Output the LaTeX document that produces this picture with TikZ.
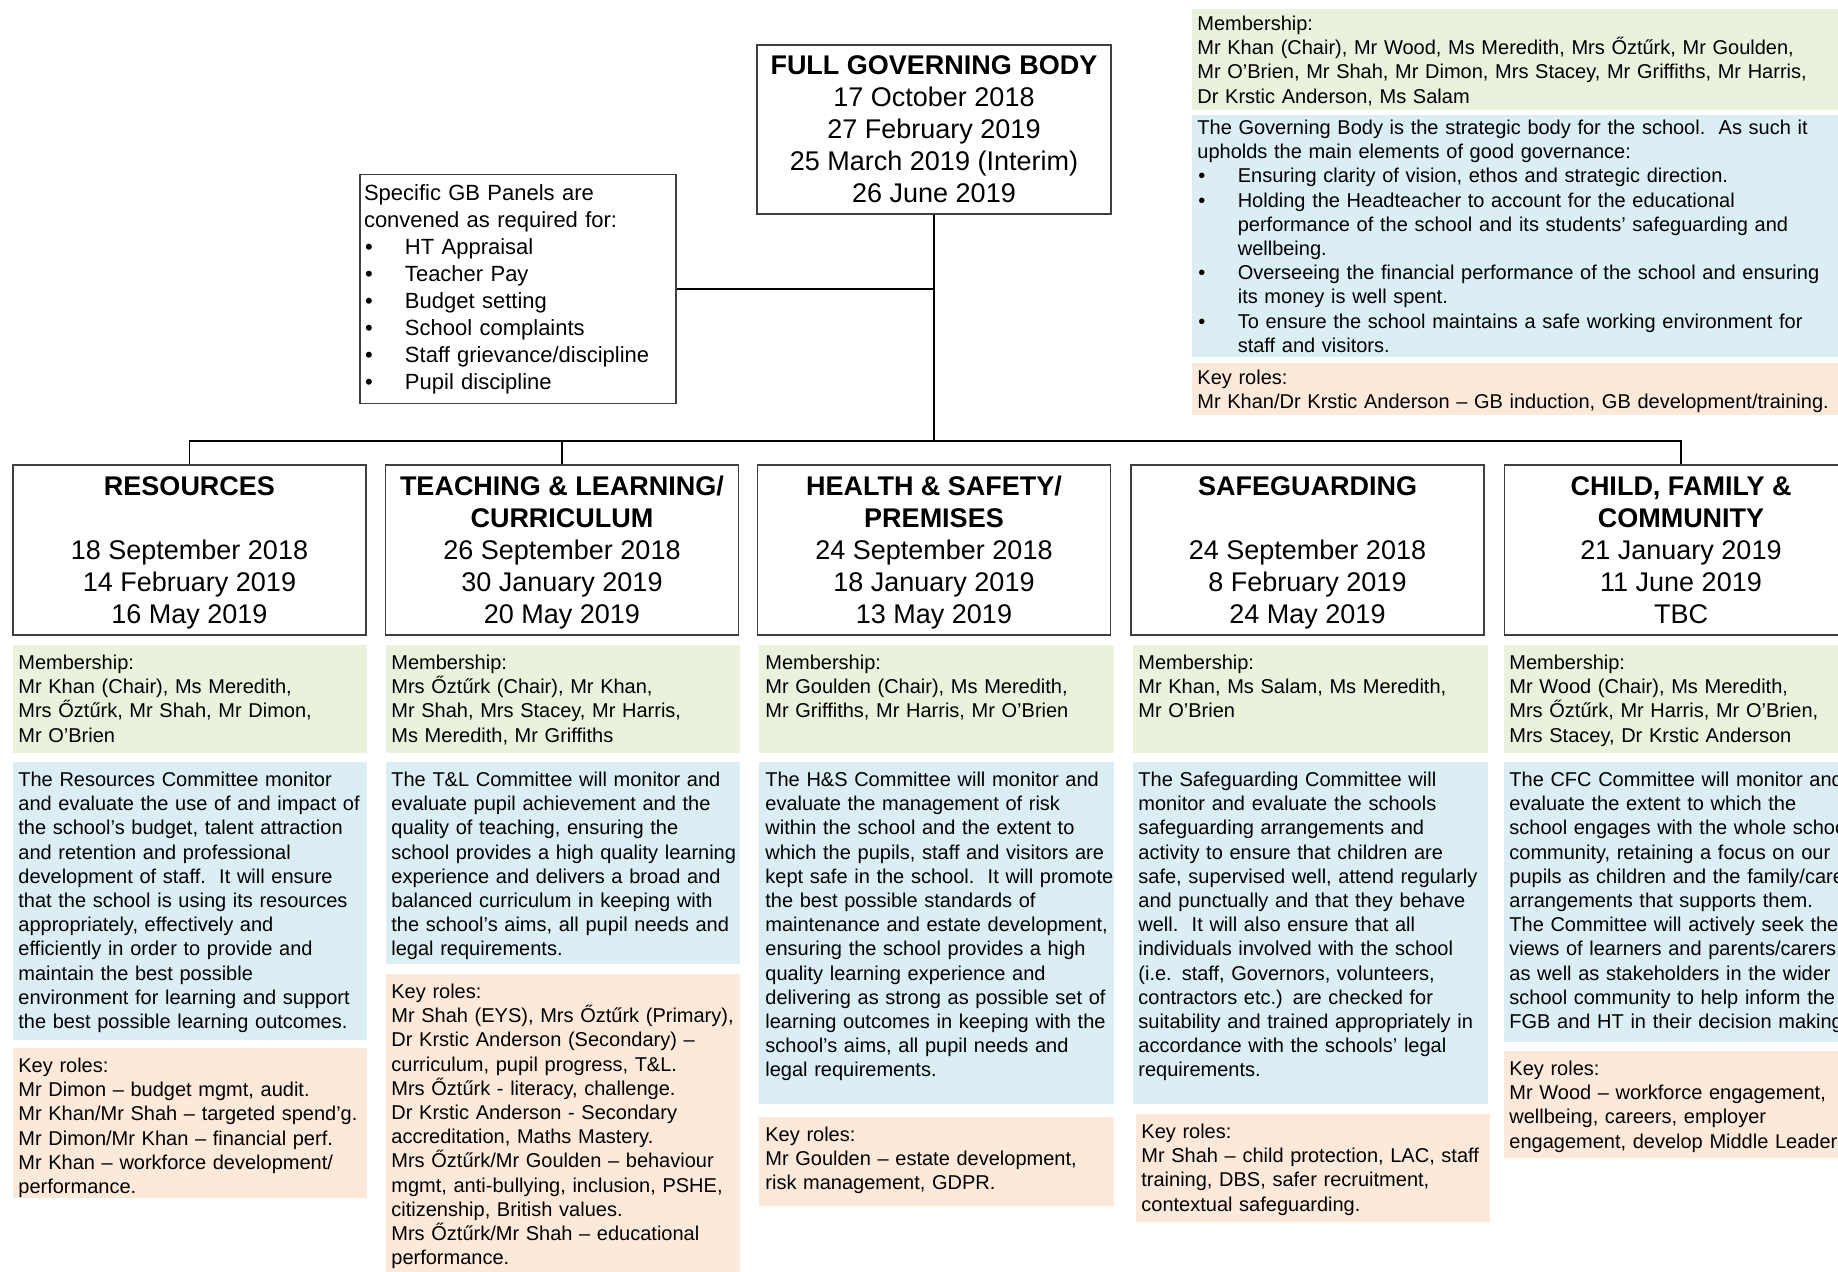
\documentclass[tikz,border=0pt]{standalone}
\usepackage{fontspec}
\setmainfont{Liberation Sans}
\definecolor{memgreen}{HTML}{EAF1DD}
\definecolor{infoblue}{HTML}{DAEEF3}
\definecolor{rolepeach}{HTML}{FDE9D9}
\newcommand{\bul}[1]{\hspace*{0.5pt}\makebox[#1][l]{\textbullet}}
\newcommand{\nodp}[1]{\raisebox{0pt}[\height][0pt]{#1}}

\begin{document}
\begin{tikzpicture}[x=0.5pt,y=-0.5pt,
	hdr/.style={draw=black!75, line width=0.7pt, minimum width=176.5pt, minimum height=85pt, inner sep=0pt, align=center, font=\fontsize{13.5}{16}\selectfont},
	txt/.style={anchor=base west, inner sep=0pt, text width=200pt, align=left, font=\fontsize{10}{12.1}\selectfont},
	link/.style={line width=0.8pt}]
			%%%%% START %%%%%
			\useasboundingbox (0,0) rectangle (1838,1272);
			\fill[white] (0,0) rectangle (1838,1272);
			\clip (0,0) rectangle (1838,1272);
			
			% governing body and panels
			\node[hdr, minimum width=177pt, minimum height=84.5pt] (fgb) at (934,129.5) {\textbf{FULL GOVERNING BODY}\\17 October 2018\\27 February 2019\\25 March 2019 (Interim)\\26 June 2019};
			\node[draw=black!75, line width=0.7pt, text width=154pt, inner xsep=2pt, inner ysep=0pt, minimum height=114.5pt, align=left, font=\fontsize{11}{13.5}\selectfont] (panels) at (518,289) {Specific GB Panels are\\convened as required for:\\\bul{20pt}HT Appraisal\\\bul{20pt}Teacher Pay\\\bul{20pt}Budget setting\\\bul{20pt}School complaints\\\bul{20pt}Staff grievance/discipline\\\bul{20pt}Pupil discipline};
			
			% governing body notes
			\fill[memgreen] (1192,9) rectangle (1838,110);
			\node[txt, text width=330pt] (fgbmem) at (1197,30.5) {Membership:\\Mr Khan (Chair), Mr Wood, Ms Meredith, Mrs Őztűrk, Mr Goulden,\\Mr O’Brien, Mr Shah, Mr Dimon, Mrs Stacey, Mr Griffiths, Mr Harris,\\Dr Krstic Anderson, Ms Salam};
			\fill[infoblue] (1192,115) rectangle (1838,357);
			\node[txt, text width=330pt] (fgbinfo) at (1197,134.5) {The Governing Body is the strategic body for the school.\ \ As such it\\upholds the main elements of good governance:\\\bul{19.7pt}Ensuring clarity of vision, ethos and strategic direction.\\\bul{19.7pt}Holding the Headteacher to account for the educational\\\hspace*{20.2pt}performance of the school and its students’ safeguarding and\\\hspace*{20.2pt}wellbeing.\\\bul{19.7pt}Overseeing the financial performance of the school and ensuring\\\hspace*{20.2pt}its money is well spent.\\\bul{19.7pt}To ensure the school maintains a safe working environment for\\\hspace*{20.2pt}staff and visitors.};
			\fill[rolepeach] (1192,363) rectangle (1838,415);
			\node[txt, text width=330pt] (fgbroles) at (1197,384.5) {Key roles:\\Mr Khan/Dr Krstic Anderson – GB induction, GB development/training.};
			
			% committees
			\node[hdr] (res) at (189.5,550) {\textbf{RESOURCES}\\[16pt]18 September 2018\\14 February 2019\\\nodp{16 May 2019}};
			\node[hdr] (tl) at (562,550) {\textbf{TEACHING \& LEARNING/}\\\textbf{CURRICULUM}\\26 September 2018\\30 January 2019\\\nodp{20 May 2019}};
			\node[hdr] (hs) at (934,550) {\textbf{HEALTH \& SAFETY/}\\\textbf{PREMISES}\\24 September 2018\\18 January 2019\\\nodp{13 May 2019}};
			\node[hdr] (sg) at (1307.5,550) {\textbf{SAFEGUARDING}\\[16pt]24 September 2018\\8 February 2019\\\nodp{24 May 2019}};
			\node[hdr] (cfc) at (1681,550) {\textbf{CHILD, FAMILY \&}\\\textbf{COMMUNITY}\\21 January 2019\\11 June 2019\\TBC};
			
			\coordinate (bus) at (934,441);
			\draw[link] (fgb.south) -- (bus);
			\draw[link] (panels.east) -- (panels.east -| fgb.south);
			\draw[link] (res.north) |- (bus) -| (cfc.north);
			\draw[link] (tl.north) -- (tl.north |- bus);
			
			% resources
			\fill[memgreen] (13,645) rectangle (367,753);
			\node[txt] (resmem) at (18,669.5) {Membership:\\Mr Khan (Chair), Ms Meredith,\\Mrs Őztűrk, Mr Shah, Mr Dimon,\\Mr O’Brien};
			\fill[infoblue] (13,762) rectangle (367,1040);
			\node[txt] (resinfo) at (18,786.5) {The Resources Committee monitor\\and evaluate the use of and impact of\\the school’s budget, talent attraction\\and retention and professional\\development of staff.\ \ It will ensure\\that the school is using its resources\\appropriately, effectively and\\efficiently in order to provide and\\maintain the best possible\\environment for learning and support\\the best possible learning outcomes.};
			\fill[rolepeach] (13,1048) rectangle (367,1198);
			\node[txt] (resroles) at (18,1072.5) {Key roles:\\Mr Dimon – budget mgmt, audit.\\Mr Khan/Mr Shah – targeted spend’g.\\Mr Dimon/Mr Khan – financial perf.\\Mr Khan – workforce development/\\performance.};
			
			% teaching and learning
			\fill[memgreen] (386,645) rectangle (740,753);
			\node[txt] (tlmem) at (391,669.5) {Membership:\\Mrs Őztűrk (Chair), Mr Khan,\\Mr Shah, Mrs Stacey, Mr Harris,\\Ms Meredith, Mr Griffiths};
			\fill[infoblue] (386,762) rectangle (740,964);
			\node[txt] (tlinfo) at (391,786.5) {The T\&L Committee will monitor and\\evaluate pupil achievement and the\\quality of teaching, ensuring the\\school provides a high quality learning\\experience and delivers a broad and\\balanced curriculum in keeping with\\the school's aims, all pupil needs and\\legal requirements.};
			\fill[rolepeach] (386,974) rectangle (740,1272);
			\node[txt] (tlroles) at (391,998.5) {Key roles:\\Mr Shah (EYS), Mrs Őztűrk (Primary),\\Dr Krstic Anderson (Secondary) –\\curriculum, pupil progress, T\&L.\\Mrs Őztűrk - literacy, challenge.\\Dr Krstic Anderson - Secondary\\accreditation, Maths Mastery.\\Mrs Őztűrk/Mr Goulden – behaviour\\mgmt, anti-bullying, inclusion, PSHE,\\citizenship, British values.\\Mrs Őztűrk/Mr Shah – educational\\performance.};
			
			% health and safety
			\fill[memgreen] (759,645) rectangle (1114,753);
			\node[txt] (hsmem) at (765,669.5) {Membership:\\Mr Goulden (Chair), Ms Meredith,\\Mr Griffiths, Mr Harris, Mr O’Brien};
			\fill[infoblue] (759,762) rectangle (1114,1104);
			\node[txt] (hsinfo) at (765,786.5) {The H\&S Committee will monitor and\\evaluate the management of risk\\within the school and the extent to\\which the pupils, staff and visitors are\\kept safe in the school.\ \ It will promote\\the best possible standards of\\maintenance and estate development,\\ensuring the school provides a high\\quality learning experience and\\delivering as strong as possible set of\\learning outcomes in keeping with the\\school's aims, all pupil needs and\\legal requirements.};
			\fill[rolepeach] (759,1117) rectangle (1114,1206);
			\node[txt] (hsroles) at (765,1141.5) {Key roles:\\Mr Goulden – estate development,\\risk management, GDPR.};
			
			% safeguarding
			\fill[memgreen] (1133,645) rectangle (1488,753);
			\node[txt] (sgmem) at (1138,669.5) {Membership:\\Mr Khan, Ms Salam, Ms Meredith,\\Mr O’Brien};
			\fill[infoblue] (1133,762) rectangle (1488,1104);
			\node[txt] (sginfo) at (1138,786.5) {The Safeguarding Committee will\\monitor and evaluate the schools\\safeguarding arrangements and\\activity to ensure that children are\\safe, supervised well, attend regularly\\and punctually and that they behave\\well.\ \ It will also ensure that all\\individuals involved with the school\\(i.e. staff, Governors, volunteers,\\contractors etc.) are checked for\\suitability and trained appropriately in\\accordance with the schools’ legal\\requirements.};
			\fill[rolepeach] (1136,1114) rectangle (1490,1222);
			\node[txt] (sgroles) at (1141,1138.5) {Key roles:\\Mr Shah – child protection, LAC, staff\\training, DBS, safer recruitment,\\contextual safeguarding.};
			
			% child, family and community
			\fill[memgreen] (1504,645) rectangle (1838,753);
			\node[txt] (cfcmem) at (1509,669.5) {Membership:\\Mr Wood (Chair), Ms Meredith,\\Mrs Őztűrk, Mr Harris, Mr O’Brien,\\Mrs Stacey, Dr Krstic Anderson};
			\fill[infoblue] (1504,762) rectangle (1838,1042);
			\node[txt] (cfcinfo) at (1509,786.5) {The CFC Committee will monitor and\\evaluate the extent to which the\\school engages with the whole school\\community, retaining a focus on our\\pupils as children and the family/carer\\arrangements that supports them.\\The Committee will actively seek the\\views of learners and parents/carers\\as well as stakeholders in the wider\\school community to help inform the\\FGB and HT in their decision making.};
			\fill[rolepeach] (1504,1051) rectangle (1838,1158);
			\node[txt] (cfcroles) at (1509,1075.5) {Key roles:\\Mr Wood – workforce engagement,\\wellbeing, careers, employer\\engagement, develop Middle Leaders.};
			
			%%%%% END %%%%%
\end{tikzpicture}
\end{document}
